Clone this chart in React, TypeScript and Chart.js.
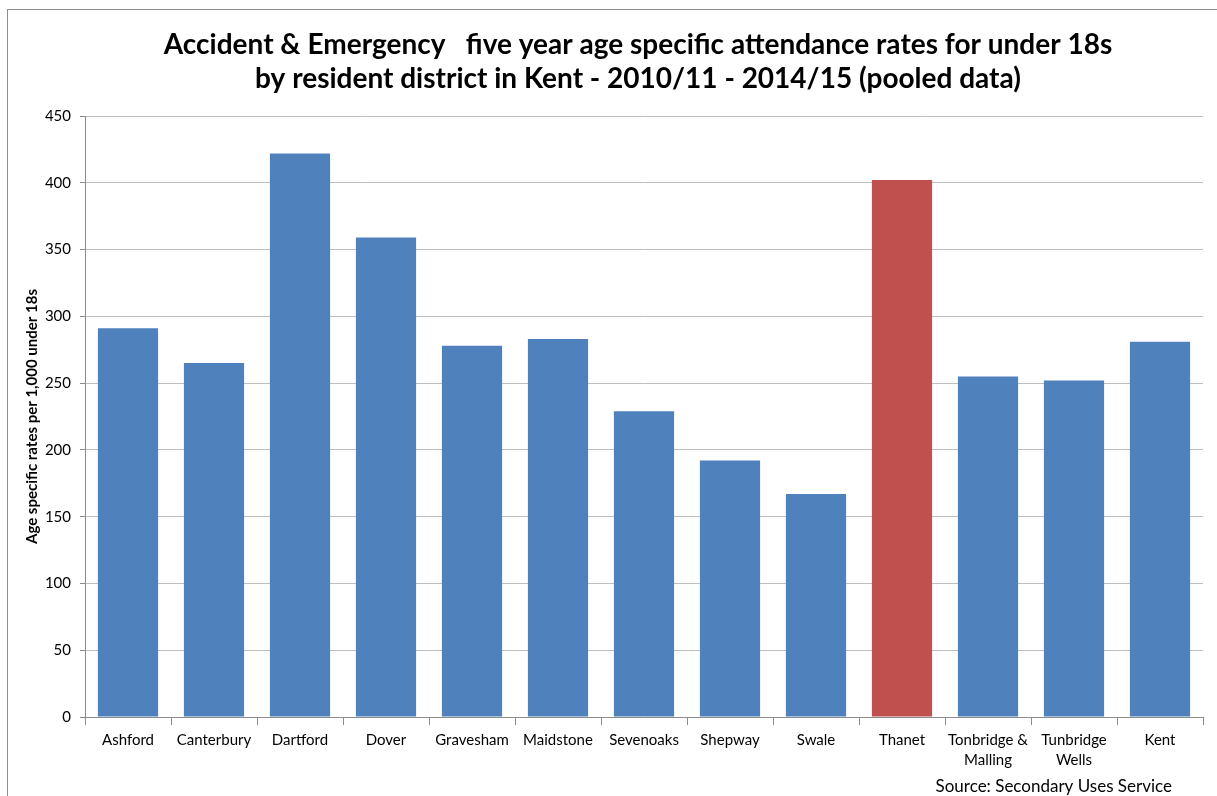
import React, { useEffect, useRef } from "react";
import { Chart, registerables } from "chart.js";

Chart.register(...registerables);

const categories: (string | string[])[] = [
  "Ashford",
  "Canterbury",
  "Dartford",
  "Dover",
  "Gravesham",
  "Maidstone",
  "Sevenoaks",
  "Shepway",
  "Swale",
  "Thanet",
  ["Tonbridge &", "Malling"],
  ["Tunbridge", "Wells"],
  "Kent",
];

const rates: number[] = [291, 265, 422, 359, 278, 283, 229, 192, 167, 402, 255, 252, 281];

const highlighted: string[] = ["Thanet"];

const yTicks: number[] = [0, 50, 100, 150, 200, 250, 300, 350, 400, 450];

const titleLines: string[] = [
  "Accident & Emergency   five year age specific attendance rates for under 18s",
  "by resident district in Kent - 2010/11 - 2014/15 (pooled data)",
];

const yAxisTitle = "Age specific rates per 1,000 under 18s";
const sourceText = "Source: Secondary Uses Service";

const FONT = "Lato, 'Open Sans', 'DejaVu Sans', sans-serif";

const frameTitleSource = {
  id: "frameTitleSource",
  beforeDraw(chart: any) {
    const ctx = chart.ctx;
    ctx.save();
    ctx.fillStyle = "#ffffff";
    ctx.fillRect(0, 0, chart.width, chart.height);
    ctx.strokeStyle = "#8c8c8c";
    ctx.lineWidth = 1;
    ctx.strokeRect(7.5, 9.5, chart.width + 50, chart.height + 50);
    ctx.restore();
  },
  afterDraw(chart: any) {
    const ctx = chart.ctx;
    ctx.save();
    ctx.fillStyle = "#000000";
    ctx.textAlign = "center";
    ctx.textBaseline = "middle";
    ctx.font = `bold 28px ${FONT}`;
    titleLines.forEach((line, i) => ctx.fillText(line, 638, 45 + i * 34));
    ctx.font = `17px ${FONT}`;
    ctx.textAlign = "right";
    ctx.textBaseline = "alphabetic";
    ctx.fillText(sourceText, 1172, 792);
    ctx.restore();
  },
};

export default function App() {
  const ref = useRef<HTMLCanvasElement | null>(null);

  useEffect(() => {
    if (!ref.current) return;
    const labelOf = (c: string | string[]) => (Array.isArray(c) ? c.join(" ") : c);
    const chart = new Chart(ref.current, {
      type: "bar",
      data: {
        labels: categories,
        datasets: [
          {
            data: rates,
            backgroundColor: categories.map((c) =>
              highlighted.includes(labelOf(c)) ? "#C0504D" : "#4F81BD"
            ),
            barPercentage: 0.7,
            categoryPercentage: 1,
          },
        ],
      },
      options: {
        responsive: false,
        animation: false,
        layout: { padding: { left: 8, right: 14, top: 116, bottom: 0 } },
        plugins: {
          legend: { display: false },
          tooltip: { enabled: false },
          title: { display: false },
        },
        scales: {
          x: {
            grid: {
              display: true,
              drawOnChartArea: false,
              tickLength: 8,
              color: "#8c8c8c",
              offset: true,
            },
            border: { color: "#8c8c8c" },
            ticks: {
              color: "#000000",
              font: { family: FONT, size: 15, lineHeight: 1.35 },
              maxRotation: 0,
              autoSkip: false,
              padding: 5,
            },
            afterFit: (s: any) => {
              s.height = 79;
            },
          },
          y: {
            min: 0,
            max: 450,
            afterBuildTicks: (s: any) => {
              s.ticks = yTicks.map((v) => ({ value: v }));
            },
            grid: { color: "#BFBFBF", tickLength: 5, tickColor: "#8c8c8c" },
            border: { color: "#8c8c8c" },
            ticks: {
              color: "#000000",
              font: { family: FONT, size: 15 },
              padding: 9,
            },
            title: {
              display: true,
              text: yAxisTitle,
              color: "#000000",
              font: { family: FONT, size: 15, weight: "bold", lineHeight: 1.2 },
              padding: { top: 15, bottom: 6 },
            },
            afterFit: (s: any) => {
              s.width = 77;
            },
          },
        },
      },
      plugins: [frameTitleSource],
    });
    return () => chart.destroy();
  }, []);

  return (
    <div style={{ position: "fixed", left: 0, top: 0, width: 1217, height: 796 }}>
      <canvas ref={ref} width={1217} height={796} />
    </div>
  );
}
